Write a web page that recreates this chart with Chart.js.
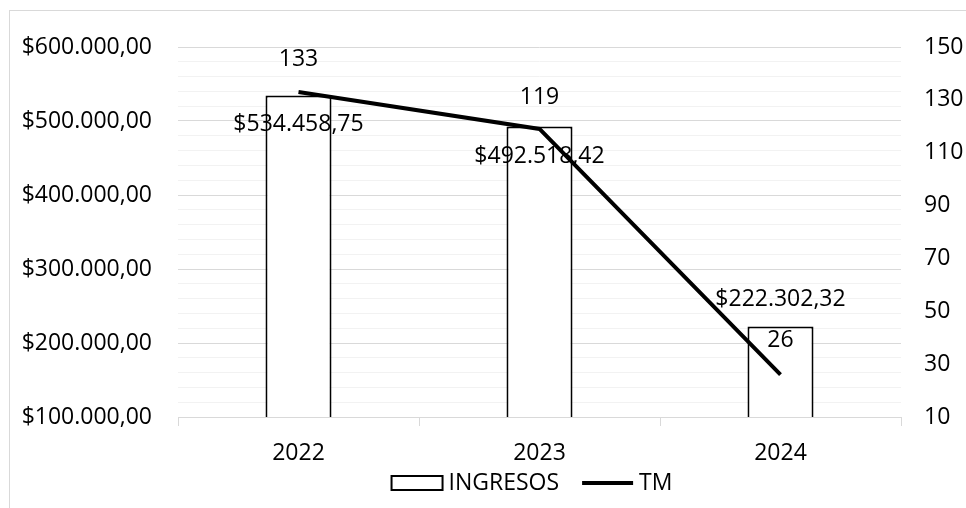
<!DOCTYPE html>
<html>
<head>
<meta charset="utf-8">
<script src="https://cdn.jsdelivr.net/npm/chart.js@4.4.1/dist/chart.umd.min.js"></script>
<style>
    html, body { margin: 0; padding: 0; background: #fff; }
    #wrap { width: 966px; height: 508px; }
</style>
</head>
<body>
<div id="wrap"><canvas id="chart"></canvas></div>
<script>
const years = ['2022', '2023', '2024'];
const ingresos = [534458.75, 492518.42, 222302.32];
const tm = [133, 119, 26];
const leftTicks = [100000, 600000, 20000];   // min, max, paso
const rightTicks = [10, 150, 20];

const FONT = '"Open Sans", sans-serif';
const FONT_SIZE = 23;

function money(v) {
    const parts = v.toFixed(2).split('.');
    return '$' + parts[0].replace(/\B(?=(\d{3})+(?!\d))/g, '.') + ',' + parts[1];
}

// desplazamiento vertical de las etiquetas respecto al extremo de cada barra / punto
const barLabelShift = [29, 30, -27];
const lineLabelShift = [-32, -31, -34];

const frame = {
    id: 'frame',
    beforeDraw(chart) {
        const c = chart.ctx;
        c.save();
        c.fillStyle = '#fff';
        c.fillRect(0, 0, chart.width, chart.height);
        c.strokeStyle = '#d9d9d9';
        c.lineWidth = 1;
        c.strokeRect(9.5, 10.5, 1200, 800);
        c.restore();
    }
};

const valueLabels = {
    id: 'valueLabels',
    afterDatasetsDraw(chart) {
        const c = chart.ctx;
        c.save();
        c.font = FONT_SIZE + 'px ' + FONT;
        c.fillStyle = '#000';
        c.textAlign = 'center';
        c.textBaseline = 'middle';
        chart.data.datasets.forEach((ds, di) => {
            const meta = chart.getDatasetMeta(di);
            meta.data.forEach((el, i) => {
                if (ds.type === 'line') {
                    c.fillText(String(ds.data[i]), el.x, el.y + lineLabelShift[i]);
                } else {
                    c.fillText(money(ds.data[i]), el.x, el.y + barLabelShift[i]);
                }
            });
        });
        c.restore();
    }
};

// leyenda al estilo Excel: rectangulo para la barra, trazo para la linea
const bottomLegend = {
    id: 'bottomLegend',
    afterDraw(chart) {
        const c = chart.ctx;
        const cy = 483;
        const symW = 51, gapSym = 6, gapItem = 23;
        c.save();
        c.font = FONT_SIZE + 'px ' + FONT;
        c.textBaseline = 'middle';
        c.textAlign = 'left';
        const items = chart.data.datasets.map(ds => ({ ds, w: symW + gapSym + c.measureText(ds.label).width }));
        const total = items.reduce((s, it) => s + it.w, 0) + gapItem * (items.length - 1);
        let x = 532 - total / 2;
        items.forEach(it => {
            c.strokeStyle = '#000';
            if (it.ds.type === 'line') {
                c.lineWidth = 4;
                c.beginPath();
                c.moveTo(x, cy);
                c.lineTo(x + symW, cy);
                c.stroke();
            } else {
                c.lineWidth = 2;
                c.fillStyle = '#fff';
                c.fillRect(x, cy - 7, symW, 14);
                c.strokeRect(x, cy - 7, symW, 14);
            }
            c.fillStyle = '#000';
            c.fillText(it.ds.label, x + symW + gapSym, cy);
            x += it.w + gapItem;
        });
        c.restore();
    }
};

new Chart(document.getElementById('chart'), {
    type: 'bar',
    data: {
        labels: years,
        datasets: [
            {
                type: 'bar',
                label: 'INGRESOS',
                data: ingresos,
                yAxisID: 'y',
                backgroundColor: '#fff',
                borderColor: '#000',
                borderWidth: 2,
                categoryPercentage: 1,
                barPercentage: 0.274,
                order: 2
            },
            {
                type: 'line',
                label: 'TM',
                data: tm,
                yAxisID: 'y1',
                borderColor: '#000',
                backgroundColor: '#000',
                borderWidth: 4,
                pointRadius: 0,
                tension: 0,
                order: 1
            }
        ]
    },
    options: {
        responsive: true,
        maintainAspectRatio: false,
        animation: false,
        layout: {
            padding: { top: 47, left: 0, right: 0, bottom: 0 }
        },
        plugins: {
            tooltip: { enabled: false },
            legend: { display: false }
        },
        scales: {
            x: {
                offset: true,
                grid: {
                    offset: true,
                    drawOnChartArea: false,
                    color: '#d9d9d9',
                    tickLength: 9
                },
                border: { color: '#d9d9d9', width: 1 },
                ticks: {
                    color: '#000',
                    padding: 14,
                    font: { family: FONT, size: FONT_SIZE }
                },
                afterFit(scale) { scale.height = 91; }
            },
            y: {
                position: 'left',
                min: leftTicks[0],
                max: leftTicks[1],
                border: { display: false },
                grid: {
                    drawTicks: false,
                    color: (ctx) => ctx.tick && ctx.tick.value % 100000 === 0 ? '#d9d9d9' : '#f2f2f2'
                },
                ticks: {
                    stepSize: leftTicks[2],
                    autoSkip: false,
                    padding: 26,
                    color: '#000',
                    font: { family: FONT, size: FONT_SIZE },
                    callback: (v) => v % 100000 === 0 ? money(v) : ''
                },
                afterFit(scale) { scale.width = 178; }
            },
            y1: {
                position: 'right',
                min: rightTicks[0],
                max: rightTicks[1],
                border: { display: false },
                grid: { drawOnChartArea: false, drawTicks: false },
                ticks: {
                    stepSize: rightTicks[2],
                    padding: 23,
                    color: '#000',
                    font: { family: FONT, size: FONT_SIZE }
                },
                afterFit(scale) { scale.width = 65; }
            }
        }
    },
    plugins: [frame, valueLabels, bottomLegend]
});
</script>
</body>
</html>
